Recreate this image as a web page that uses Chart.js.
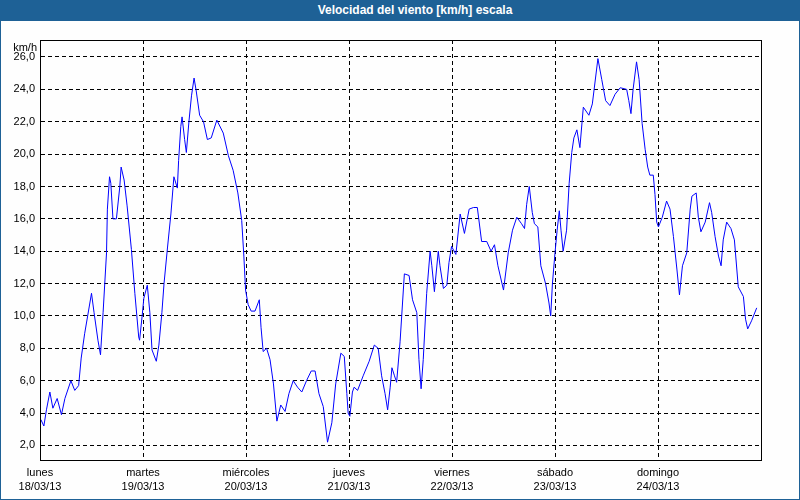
<!DOCTYPE html>
<html>
<head>
<meta charset="utf-8">
<script src="https://cdn.jsdelivr.net/npm/chart.js@4.4.0/dist/chart.umd.min.js"></script>
<style>
  body { margin: 0; background: #fff; }
  #wrap { position: relative; width: 800px; height: 500px; overflow: hidden; background: #fefefe; }
  #bar { position: absolute; left: 0; top: 0; width: 770px; padding-left: 30px; height: 21px; background: #1e6196;
         color: #fff; font: bold 12px "Liberation Sans", sans-serif; line-height: 21px; text-align: center; }
  #frame { position: absolute; left: 0; top: 0; width: 800px; height: 500px; box-sizing: border-box;
           border: 1px solid #1e6196; border-top: none; pointer-events: none; }
  #box { position: absolute; left: 0; top: 20px; width: 800px; height: 480px; }
</style>
</head>
<body>
<div id="wrap">
  <div id="bar">Velocidad del viento [km/h] escala</div>
  <div id="box"><canvas id="chart" width="800" height="480"></canvas></div>
  <div id="frame"></div>
</div>
<script>
// hours since lunes 18/03/13 00:00
const hours = [
  0.2, 0.9, 1.5, 2.3, 3.0, 4.0, 5.0, 5.8, 7.2, 8.1, 9.0, 9.6, 10.4, 12.0, 12.6, 13.5, 14.1, 14.7, 15.5, 15.7,
  16.2, 16.5, 17.0, 17.8, 18.6, 18.9, 19.6, 20.3, 21.3, 22.1, 23.0, 23.2, 23.8, 24.2, 25.0, 25.6, 26.1, 27.1, 27.7, 28.4,
  28.9, 29.7, 30.5, 31.2, 32.0, 32.3, 32.8, 33.1, 33.7, 34.1, 34.7, 35.3, 35.9, 36.4, 37.2, 38.1, 39.0, 39.9, 41.2,
  42.7, 43.9, 45.0, 46.1, 47.0, 47.5, 47.9, 48.5, 49.2, 50.1, 51.1, 51.5, 52.0, 52.8, 53.6, 54.4, 55.2, 56.1, 57.1, 58.0,
  59.0, 60.0, 61.0, 62.1, 63.2, 64.1, 65.0, 66.0, 67.0, 68.0, 68.9, 70.1, 70.9, 71.5, 71.8, 72.2, 72.8, 73.2, 74.0, 75.3,
  76.7, 77.9, 78.8, 79.6, 80.4, 81.0, 81.6, 82.0, 82.6, 83.1, 83.9,
  84.9, 86.0, 86.8, 87.8, 88.3, 88.8, 89.3, 90.1, 90.9, 91.3, 91.9, 92.4, 92.8, 93.2, 94.0, 94.8, 95.3, 95.9, 96.9, 97.9,
  98.9, 100.0, 101.0, 101.9, 102.9, 104.1, 105.1, 105.9, 106.7, 108.0, 109.1, 110.1, 111.1, 112.2, 112.9, 113.4, 114.0, 114.7, 115.2, 116.0,
  116.7, 117.8, 118.6, 119.0, 119.4, 120.0, 120.5, 121.0, 121.4, 121.9, 122.7, 123.3, 123.9, 124.4, 125.1,
  125.8, 126.6, 127.9, 128.7, 130.0, 130.9, 131.8, 132.8, 134.0, 135.2, 136.7, 137.2, 137.7, 138.2, 139.0, 139.6, 140.3, 141.0, 141.6, 142.1,
  142.9, 143.3, 143.7, 144.1, 145.0, 146.0, 146.8, 147.6, 148.4, 149.0, 149.7, 150.7, 151.5, 151.9, 152.9, 153.4, 154.0, 155.0, 156.0, 156.5,
  157.3, 158.1, 158.7, 159.2, 160.0, 161.0, 161.8, 162.7, 163.9, 164.4, 164.9, 165.8, 167.0
];
const speed = [
  3.6, 3.2, 4.2, 5.3, 4.3, 4.9, 3.9, 4.9, 6.0, 5.4, 5.7, 7.4, 8.9, 11.4, 10.2, 8.5, 7.6, 10.2, 13.9, 16.6,
  18.6, 18.2, 16.0, 16.0, 18.0, 19.2, 18.4, 16.8, 14.1, 11.4, 8.7, 8.5, 10.0, 11.1, 11.9, 10.2, 7.9, 7.2, 8.2, 10.2,
  12.0, 14.2, 16.3, 18.6, 17.9, 19.6, 21.7, 22.3, 20.9, 20.1, 22.0, 23.6, 24.7, 23.9, 22.4, 22.0, 20.9, 21.0, 22.1,
  21.3, 19.9, 19.0, 17.6, 15.9, 13.7, 11.6, 10.7, 10.3, 10.3, 11.0, 9.3, 7.8, 8.0, 7.3, 5.8, 3.5, 4.5, 4.1, 5.2,
  6.0, 5.6, 5.3, 6.0, 6.6, 6.6, 5.2, 4.4, 2.2, 3.4, 5.8, 7.7, 7.5, 5.2, 4.0, 3.8, 5.3, 5.6, 5.4, 6.3,
  7.2, 8.2, 8.0, 6.3, 5.2, 4.2, 5.6, 6.8, 6.3, 5.9, 8.4,
  12.6, 12.5, 11.0, 10.2, 7.3, 5.5, 7.3, 11.4, 14.0, 13.1, 11.5, 12.9, 14.0, 13.1, 11.7, 11.9, 13.3, 14.3, 13.8, 16.3,
  15.1, 16.6, 16.7, 16.7, 14.6, 14.6, 14.0, 14.4, 13.1, 11.6, 13.9, 15.3, 16.1, 15.7, 15.4, 16.9, 18.0, 16.4, 15.7, 15.5,
  13.1, 12.0, 10.8, 10.0, 12.0, 13.9, 15.3, 16.5, 15.3, 14.0, 15.3, 18.2, 20.1, 21.0, 21.5,
  20.4, 22.9, 22.4, 23.1, 25.9, 24.6, 23.3, 23.0, 23.7, 24.1, 24.0, 23.3, 22.5, 24.0, 25.7, 24.6, 21.9, 20.3, 19.2, 18.7,
  18.7, 17.5, 15.8, 15.5, 16.1, 17.1, 16.6, 14.9, 12.9, 11.3, 13.1, 13.9, 16.6, 17.4, 17.6, 16.1, 15.2, 15.8, 17.0, 16.4,
  14.9, 13.7, 13.1, 14.7, 15.8, 15.4, 14.7, 11.8, 11.2, 9.8, 9.2, 9.7, 10.5
];
const dayTicks = [0, 24, 48, 72, 96, 120, 144];
const dayNames = ['lunes', 'martes', 'miércoles', 'jueves', 'viernes', 'sábado', 'domingo'];
const dayDates = ['18/03/13', '19/03/13', '20/03/13', '21/03/13', '22/03/13', '23/03/13', '24/03/13'];
const yTicks = [2, 4, 6, 8, 10, 12, 14, 16, 18, 20, 22, 24, 26];

const tickFont = { family: 'Liberation Sans', size: 11, lineHeight: 1.3 };

// plot frame + unit label
const framePlugin = {
  id: 'frame',
  afterDraw(chart) {
    const { ctx, chartArea: a } = chart;
    ctx.save();
    ctx.strokeStyle = '#000';
    ctx.lineWidth = 1;
    ctx.strokeRect(Math.round(a.left) + 0.5, Math.round(a.top) + 0.5,
      Math.round(a.right - a.left), Math.round(a.bottom - a.top));
    ctx.fillStyle = '#000';
    ctx.font = '11px "Liberation Sans"';
    ctx.textAlign = 'right';
    ctx.fillText('km/h', a.left - 3, a.top + 11);
    ctx.restore();
  }
};

new Chart(document.getElementById('chart'), {
  type: 'line',
  data: {
    datasets: [{
      data: hours.map((h, i) => ({ x: h, y: speed[i] })),
      borderColor: '#0000ff',
      borderWidth: 1,
      pointRadius: 0,
      tension: 0,
      fill: false
    }]
  },
  options: {
    responsive: false,
    animation: false,
    devicePixelRatio: 1,
    layout: { padding: { top: 20, right: 39, left: 0, bottom: 0 } },
    plugins: { legend: { display: false }, tooltip: { enabled: false } },
    scales: {
      x: {
        type: 'linear',
        min: 0,
        max: 168,
        afterBuildTicks: s => { s.ticks = dayTicks.map(v => ({ value: v })); },
        afterFit: s => { s.height = 40; },
        grid: { color: '#000', drawTicks: false },
        border: { display: true, color: '#000', dash: [4, 3] },
        ticks: {
          autoSkip: false,
          maxRotation: 0,
          padding: 6,
          color: '#000',
          font: tickFont,
          callback: v => {
            const i = dayTicks.indexOf(v);
            return i < 0 ? '' : [dayNames[i], dayDates[i]];
          }
        }
      },
      y: {
        min: 1.1,
        max: 27.05,
        afterBuildTicks: s => { s.ticks = yTicks.map(v => ({ value: v })); },
        afterFit: s => { s.width = 40; },
        grid: { color: '#000', drawTicks: false },
        border: { display: true, color: '#000', dash: [4, 3] },
        ticks: {
          padding: 5,
          color: '#000',
          font: tickFont,
          callback: v => v.toFixed(1).replace('.', ',')
        }
      }
    }
  },
  plugins: [framePlugin]
});
</script>
</body>
</html>
